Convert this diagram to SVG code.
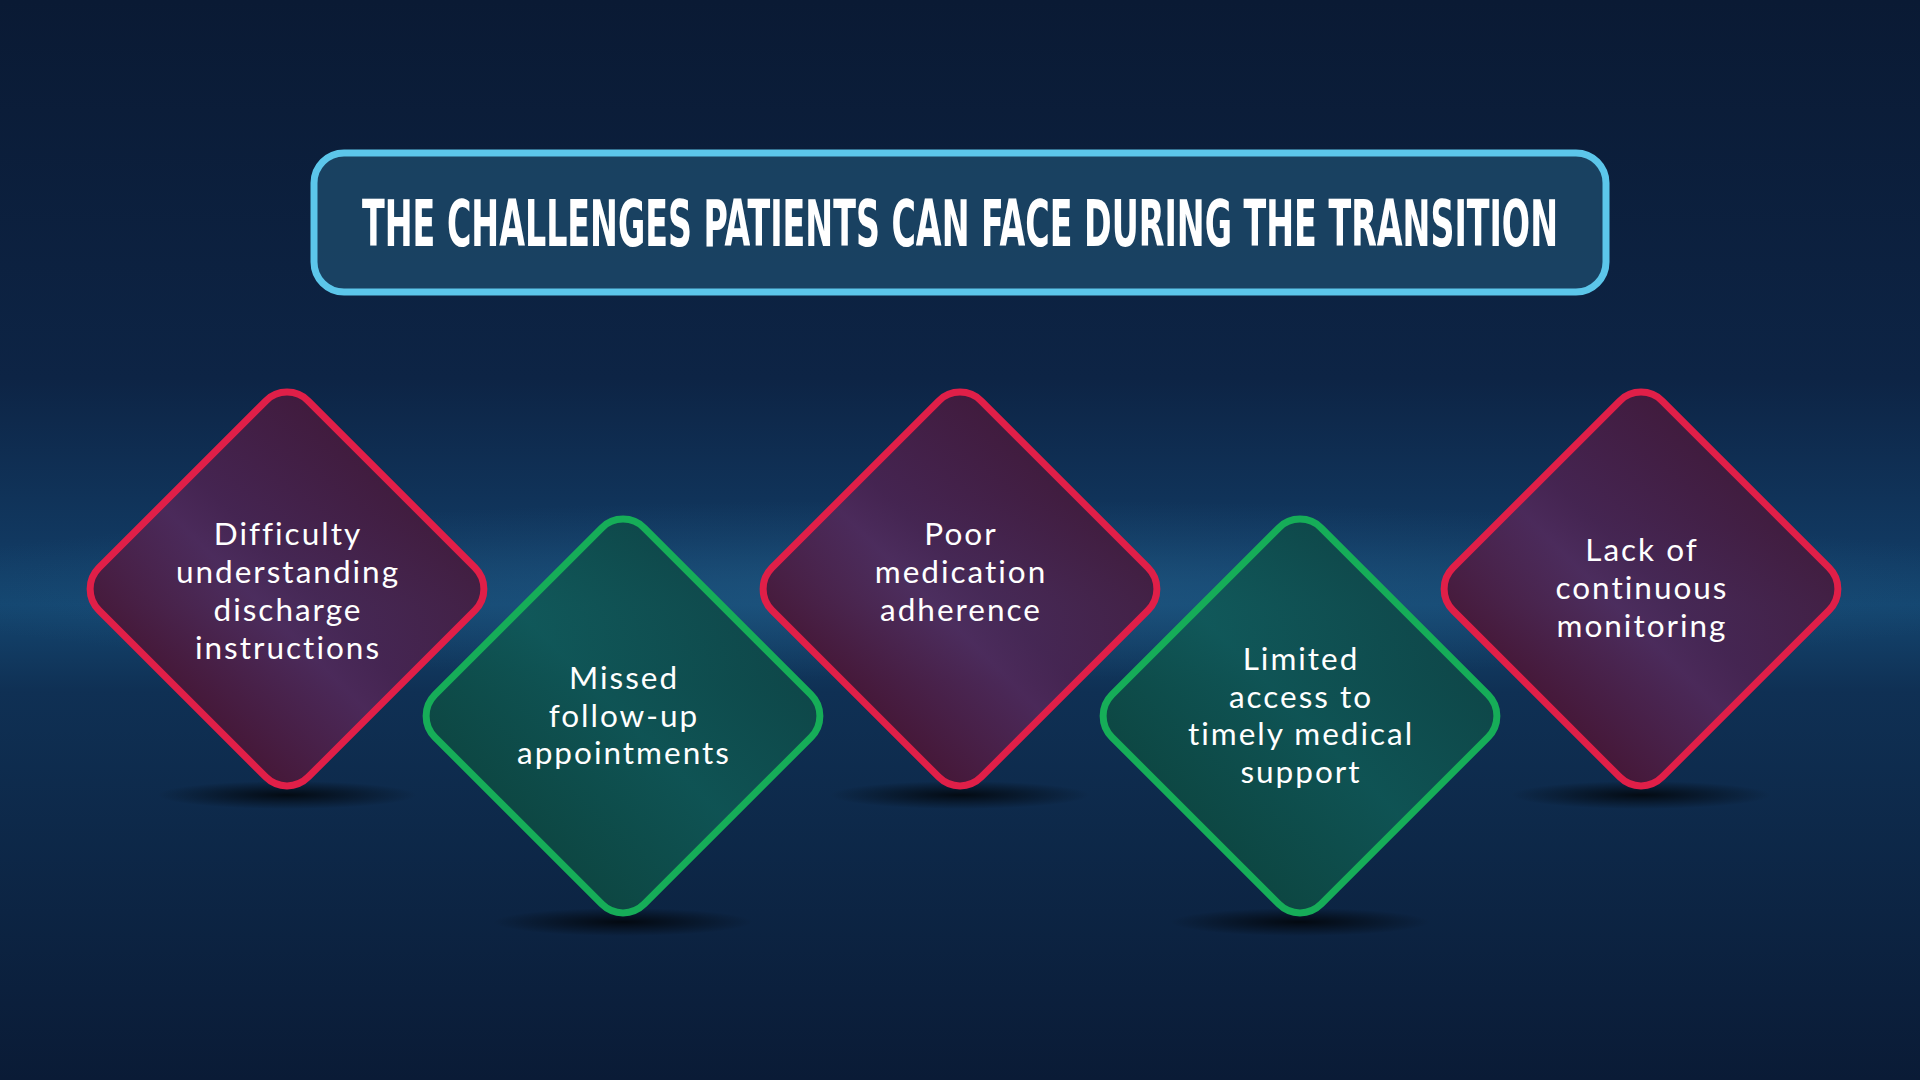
<svg xmlns="http://www.w3.org/2000/svg" width="1920" height="1080" viewBox="0 0 1920 1080">
<defs>
<linearGradient id="bg" x1="0" y1="0" x2="0" y2="1">
<stop offset="0" stop-color="#0a1a34"/>
<stop offset="0.35" stop-color="#0d2445"/>
<stop offset="0.5" stop-color="#113860"/>
<stop offset="0.56" stop-color="#144670"/>
<stop offset="0.64" stop-color="#0f3054"/>
<stop offset="1" stop-color="#0a1b36"/>
</linearGradient>
<radialGradient id="glow" cx="0.5" cy="0.5" r="0.5">
<stop offset="0" stop-color="#2a6a95" stop-opacity="0.4"/>
<stop offset="1" stop-color="#2a6a95" stop-opacity="0"/>
</radialGradient>
<linearGradient id="redfill" x1="0" y1="0" x2="0" y2="1">
<stop offset="0" stop-color="#461a3c" stop-opacity="0.9"/>
<stop offset="0.45" stop-color="#4e2250" stop-opacity="0.85"/>
<stop offset="0.6" stop-color="#55285a" stop-opacity="0.85"/>
<stop offset="1" stop-color="#4a1636" stop-opacity="0.92"/>
</linearGradient>
<linearGradient id="greenfill" x1="0" y1="0" x2="0" y2="1">
<stop offset="0" stop-color="#0e4a48" stop-opacity="0.9"/>
<stop offset="0.5" stop-color="#0f5a55" stop-opacity="0.85"/>
<stop offset="1" stop-color="#0d4a42" stop-opacity="0.9"/>
</linearGradient>
<radialGradient id="shadow" cx="0.5" cy="0.5" r="0.5">
<stop offset="0" stop-color="#000000" stop-opacity="0.75"/>
<stop offset="1" stop-color="#000000" stop-opacity="0"/>
</radialGradient>
<style>
.red { fill: url(#redfill); stroke: #e01f48; stroke-width: 7; }
.green { fill: url(#greenfill); stroke: #16ad58; stroke-width: 7; }
.lbl { font-family: "Lato", "Open Sans", sans-serif; font-weight: 400; font-size: 31.5px; letter-spacing: 2px; fill: #ffffff; text-anchor: middle; }
.title { font-family: "DejaVu Sans Condensed", "DejaVu Sans", sans-serif; font-weight: bold; font-size: 40px; fill: #ffffff; text-anchor: middle; }
</style>
</defs>

<rect x="0" y="0" width="1920" height="1080" fill="url(#bg)"/>
<ellipse cx="960" cy="590" rx="1100" ry="90" fill="url(#glow)"/>

<g id="title">
<rect x="314" y="153" width="1292" height="139" rx="30" ry="30" fill="#1d4a6a" fill-opacity="0.8" stroke="#5cc6ea" stroke-width="7"/>
<text class="title" transform="translate(960,246) scale(1,1.6)" x="0" y="0" textLength="1196" lengthAdjust="spacingAndGlyphs">THE CHALLENGES PATIENTS CAN FACE DURING THE TRANSITION</text>
</g>

<g id="shadows">
<ellipse cx="287" cy="795" rx="130" ry="14" fill="url(#shadow)"/>
<ellipse cx="623" cy="922" rx="130" ry="14" fill="url(#shadow)"/>
<ellipse cx="960" cy="795" rx="130" ry="14" fill="url(#shadow)"/>
<ellipse cx="1300" cy="922" rx="130" ry="14" fill="url(#shadow)"/>
<ellipse cx="1641" cy="795" rx="130" ry="14" fill="url(#shadow)"/>
</g>

<g id="connectors"></g>

<g id="node1">
<rect class="red" x="-148" y="-148" width="296" height="296" rx="30" transform="translate(287,589) rotate(45)"/>
<text class="lbl" x="288" y="545"><tspan x="288">Difficulty</tspan><tspan x="288" dy="38">understanding</tspan><tspan x="288" dy="38">discharge</tspan><tspan x="288" dy="38">instructions</tspan></text>
</g>

<g id="node2">
<rect class="green" x="-148" y="-148" width="296" height="296" rx="30" transform="translate(623,716) rotate(45)"/>
<text class="lbl" x="624" y="689"><tspan x="624">Missed</tspan><tspan x="624" dy="37.5">follow-up</tspan><tspan x="624" dy="37.5">appointments</tspan></text>
</g>

<g id="node3">
<rect class="red" x="-148" y="-148" width="296" height="296" rx="30" transform="translate(960,589) rotate(45)"/>
<text class="lbl" x="961" y="545"><tspan x="961">Poor</tspan><tspan x="961" dy="38">medication</tspan><tspan x="961" dy="38">adherence</tspan></text>
</g>

<g id="node4">
<rect class="green" x="-148" y="-148" width="296" height="296" rx="30" transform="translate(1300,716) rotate(45)"/>
<text class="lbl" x="1301" y="670"><tspan x="1301">Limited</tspan><tspan x="1301" dy="37.5">access to</tspan><tspan x="1301" dy="37.5">timely medical</tspan><tspan x="1301" dy="37.5">support</tspan></text>
</g>

<g id="node5">
<rect class="red" x="-148" y="-148" width="296" height="296" rx="30" transform="translate(1641,589) rotate(45)"/>
<text class="lbl" x="1642" y="561"><tspan x="1642">Lack of</tspan><tspan x="1642" dy="38">continuous</tspan><tspan x="1642" dy="38">monitoring</tspan></text>
</g>
</svg>
